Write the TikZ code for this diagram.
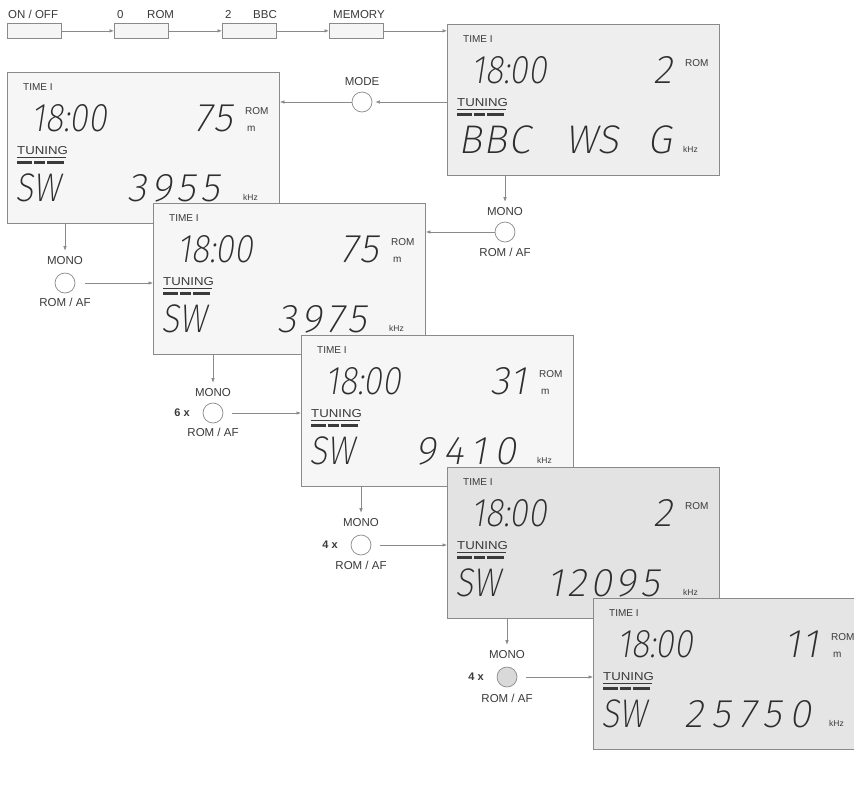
\documentclass[tikz,border=0pt]{standalone}
\usepackage{fontspec}
\usepackage{graphicx}
\setmainfont{Liberation Sans}
\newfontfamily\segfont{Fira Sans ExtraLight}[FakeSlant=0.18]
\usetikzlibrary{arrows.meta}
\definecolor{ink}{HTML}{3A3A3A}
\definecolor{segc}{HTML}{2E2E2E}
\definecolor{edge}{HTML}{8A8A8A}
\newcommand\sg[1]{\scalebox{0.85}[1]{#1}}
\newcommand\sw[2][12]{{\addfontfeatures{LetterSpace=#1}#2}}
\newcommand\tw[1]{\scalebox{1.15}[1]{#1}}
\tikzset{
 lcdbox/.style={draw=edge, line width=0.9pt, minimum width=272pt, minimum height=151pt, anchor=north west, inner sep=0},
 btn/.style={draw=edge, fill=gray!8, line width=0.7pt, minimum width=54pt, minimum height=15pt, anchor=north west, inner sep=0},
 lbl/.style={font=\fontsize{11.5}{11.5}\selectfont, text=ink, inner sep=0},
 bold/.style={font=\bfseries\fontsize{11}{11}\selectfont, text=ink, inner sep=0},
 small/.style={font=\fontsize{10}{10}\selectfont, text=ink, inner sep=0},
 tiny/.style={font=\fontsize{8.5}{8.5}\selectfont, text=ink, inner sep=0},
 seg/.style={font=\segfont\fontsize{40}{40}\selectfont, text=segc, inner sep=0},
 knob/.style={circle, draw=edge, line width=0.7pt, minimum size=20pt, inner sep=0},
 arr/.style={draw=edge, line width=0.6pt, -{Latex[length=4.5pt,width=3.5pt]}},
}
% name, fill, position, top number, extra content
\newcommand\lcd[5]{%
 \node[lcdbox,fill=#2] (#1) at (#3) {};
 \begin{scope}[shift={(#1.north west)}]
  \node[small,anchor=base west] (#1time) at (16,18) {TIME I};
  \node[seg,anchor=base west] (#1clock) at (24,59) {\sg{18:00}};
  \node[seg,anchor=base east] (#1num) at (226,59) {\sw[6]{#4}};
  \node[small,anchor=base west] (#1rom) at (238,42) {ROM};
  \node[lbl,anchor=base west] (#1tun) at (10,82) {\tw{TUNING}};
  \draw[ink,line width=0.6pt] (10,85) -- (59,85);
  \draw[ink,line width=3pt] (10,90) -- (25,90) (27,90) -- (38,90) (40,90) -- (57,90);
  \node[tiny,anchor=base west] (#1khz) at (236,128) {kHz};
  #5
 \end{scope}}
\begin{document}
\begin{tikzpicture}[x=1pt,y=-1pt]
\useasboundingbox (0,0) rectangle (854,785);
\clip (0,0) rectangle (854,785);
\fill[white] (0,0) rectangle (854,785);
% top row
\node[lbl,anchor=base west] (t1) at (8,18) {ON / OFF};
\node[lbl,anchor=base west] (t2a) at (117,18) {0};
\node[lbl,anchor=base west] (t2b) at (147,18) {ROM};
\node[lbl,anchor=base west] (t3a) at (225,18) {2};
\node[lbl,anchor=base west] (t3b) at (253,18) {BBC};
\node[lbl,anchor=base west] (t4) at (333,18) {MEMORY};
\node[btn] (b1) at (7,23) {};
\node[btn] (b2) at (114,23) {};
\node[btn] (b3) at (222,23) {};
\node[btn] (b4) at (329,23) {};
\draw[arr] (b1.east) -- (b2.west);
\draw[arr] (b2.east) -- (b3.west);
\draw[arr] (b3.east) -- (b4.west);
% displays
\lcd{d1}{gray!13}{447,24}{2}{%
  \node[seg,anchor=base west] (d1a) at (11,129) {\sw[3]{BBC}};
  \node[seg,anchor=base west] (d1b) at (118,129) {WS};
  \node[seg,anchor=base west] (d1c) at (200,129) {G};}
\draw[arr] (b4.east) -- (b4.east -| d1.west);
\lcd{d2}{gray!7}{7,72}{75}{%
  \node[small,anchor=base west] (d2m) at (240,59) {m};
  \node[seg,anchor=base west] (d2a) at (8,129) {\sg{SW}};
  \node[seg,anchor=base east] (d2b) at (213,129) {\sw{3955}};}
% MODE
\node[knob] (mode) at (362,102) {};
\node[lbl] (model) at (362,82) {MODE};
\draw[arr, shorten >=3pt] (d1.west |- mode) -- (mode.east);
\draw[arr] (mode.west) -- (mode.west -| d2.east);
% step 1
\node[knob] (c1) at (505,232) {};
\node[lbl] (c1t) at (505,212) {MONO};
\node[lbl] (c1b) at (505,252) {ROM / AF};
\draw[arr, shorten >=6pt] (d1.south -| c1) -- (c1t.north);
\lcd{d3}{gray!7}{153,203}{75}{%
  \node[small,anchor=base west] (d3m) at (240,59) {m};
  \node[seg,anchor=base west] (d3a) at (8,129) {\sg{SW}};
  \node[seg,anchor=base east] (d3b) at (214,129) {\sw{3975}};}
\draw[arr] (c1.west) -- (c1.west -| d3.east);
% step 2
\node[knob] (c2) at (65,283) {};
\node[lbl] (c2t) at (65,261) {MONO};
\node[lbl] (c2b) at (65,302) {ROM / AF};
\draw[arr, shorten >=6pt] (d2.south -| c2) -- (c2t.north);
\draw[arr, shorten <=10pt] (c2.east) -- (c2.east -| d3.west);
% step 3
\lcd{d4}{gray!7}{301,335}{31}{%
  \node[small,anchor=base west] (d4m) at (240,59) {m};
  \node[seg,anchor=base west] (d4a) at (8,129) {\sg{SW}};
  \node[seg,anchor=base east] (d4b) at (216,129) {\sw[20]{9410}};}
\node[knob] (c3) at (213,413) {};
\node[lbl] (c3t) at (213,393) {MONO};
\node[lbl] (c3b) at (213,432) {ROM / AF};
\node[bold] (c3n) at (182,413) {6 x};
\draw[arr, shorten >=6pt] (d3.south -| c3) -- (c3t.north);
\draw[arr, shorten <=9pt] (c3.east) -- (c3.east -| d4.west);
% step 4
\lcd{d5}{gray!22}{447,467}{2}{%
  \node[seg,anchor=base west] (d5a) at (8,129) {\sg{SW}};
  \node[seg,anchor=base east] (d5b) at (213,129) {\sw[10]{12095}};}
\node[knob] (c4) at (361,545) {};
\node[lbl] (c4t) at (361,523) {MONO};
\node[lbl] (c4b) at (361,565) {ROM / AF};
\node[bold] (c4n) at (330,545) {4 x};
\draw[arr, shorten >=6pt] (d4.south -| c4) -- (c4t.north);
\draw[arr, shorten <=9pt] (c4.east) -- (c4.east -| d5.west);
% step 5
\lcd{d6}{gray!20}{593,598}{11}{%
  \node[small,anchor=base west] (d6m) at (240,59) {m};
  \node[seg,anchor=base west] (d6a) at (8,129) {\sg{SW}};
  \node[seg,anchor=base east] (d6b) at (219,129) {\sw[20]{25750}};}
\node[knob, fill=gray!30] (c5) at (507,677) {};
\node[lbl] (c5t) at (507,655) {MONO};
\node[lbl] (c5b) at (507,698) {ROM / AF};
\node[bold] (c5n) at (476,677) {4 x};
\draw[arr, shorten >=6pt] (d5.south -| c5) -- (c5t.north);
\draw[arr, shorten <=9pt] (c5.east) -- (c5.east -| d6.west);
\end{tikzpicture}
\end{document}
